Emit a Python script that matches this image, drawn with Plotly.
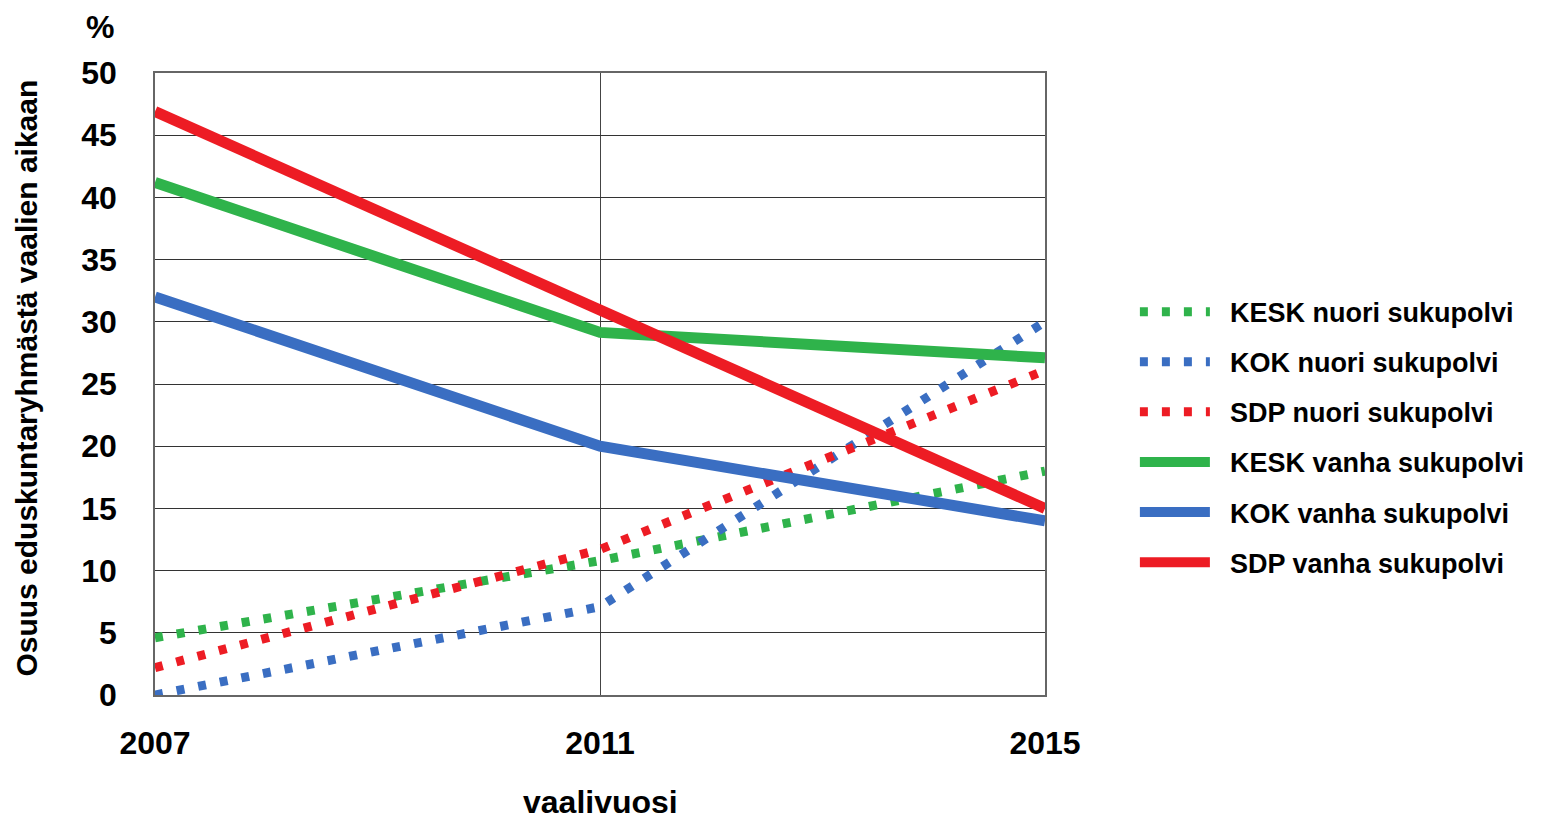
import plotly.graph_objects as go

years = [2007, 2011, 2015]
kesk_nuori = [4.6, 10.8, 18.0]
kok_nuori = [0.0, 7.1, 30.0]
sdp_nuori = [2.2, 11.7, 26.1]
kesk_vanha = [41.2, 29.15, 27.1]
kok_vanha = [32.0, 20.0, 14.0]
sdp_vanha = [46.9, 31.0, 15.0]

series_names = ["KESK nuori sukupolvi", "KOK nuori sukupolvi", "SDP nuori sukupolvi",
                "KESK vanha sukupolvi", "KOK vanha sukupolvi", "SDP vanha sukupolvi"]
series_values = [kesk_nuori, kok_nuori, sdp_nuori, kesk_vanha, kok_vanha, sdp_vanha]

GREEN = "#2fb34b"
BLUE = "#3a6ec2"
RED = "#ed1c24"
colors = [GREEN, BLUE, RED, GREEN, BLUE, RED]
dotted = [True, True, True, False, False, False]

FONT = "Liberation Sans"

fig = go.Figure()
for i, (name, vals) in enumerate(zip(series_names, series_values)):
    if dotted[i]:
        line = dict(color=colors[i], width=9, dash="8px,14px")
    else:
        line = dict(color=colors[i], width=11)
    fig.add_trace(go.Scatter(
        x=years, y=vals, mode="lines", name="\u00a0\u00a0" + name, line=line,
        legendgroup=f"g{i}", hoverinfo="skip"))

fig.update_layout(
    width=1546, height=811,
    paper_bgcolor="white", plot_bgcolor="white",
    margin=dict(l=147, r=509, t=65, b=124),
    font=dict(family=FONT, color="black"),
    showlegend=True,
    legend=dict(
        x=1.101, y=0.655, xanchor="left", yanchor="top",
        font=dict(family=FONT, size=27, weight="bold", color="black"),
        itemwidth=70, tracegroupgap=12,
        bgcolor="rgba(0,0,0,0)",
    ),
    xaxis=dict(
        range=[2007, 2015], tickvals=years, ticktext=[str(y) for y in years],
        showgrid=True, gridcolor="#444", gridwidth=1,
        showline=True, linecolor="#666", linewidth=1.5, mirror=True,
        zeroline=False,
        tickfont=dict(family=FONT, size=32, weight="bold", color="black"),
        ticks="outside", ticklen=19, tickcolor="rgba(0,0,0,0)",
    ),
    yaxis=dict(
        range=[0, 50], dtick=5,
        showgrid=True, gridcolor="#333", gridwidth=1,
        showline=True, linecolor="#666", linewidth=1.5, mirror=True,
        zeroline=False,
        tickfont=dict(family=FONT, size=32, weight="bold", color="black"),
        ticks="outside", ticklen=30, tickcolor="rgba(0,0,0,0)",
    ),
    annotations=[
        dict(text="%", x=-0.062, y=1.074, xref="paper", yref="paper",
             xanchor="center", yanchor="middle",
             showarrow=False, font=dict(family=FONT, size=32, weight="bold")),
        dict(text="vaalivuosi", x=0.5, y=-0.172, xref="paper", yref="paper",
             xanchor="center", yanchor="middle",
             showarrow=False, font=dict(family=FONT, size=32, weight="bold")),
        dict(text="Osuus eduskuntaryhmästä vaalien aikaan", x=-0.144, y=0.51,
             xref="paper", yref="paper", textangle=-90,
             xanchor="center", yanchor="middle",
             showarrow=False, font=dict(family=FONT, size=30, weight="bold")),
    ],
)

fig.write_html("out.html")
